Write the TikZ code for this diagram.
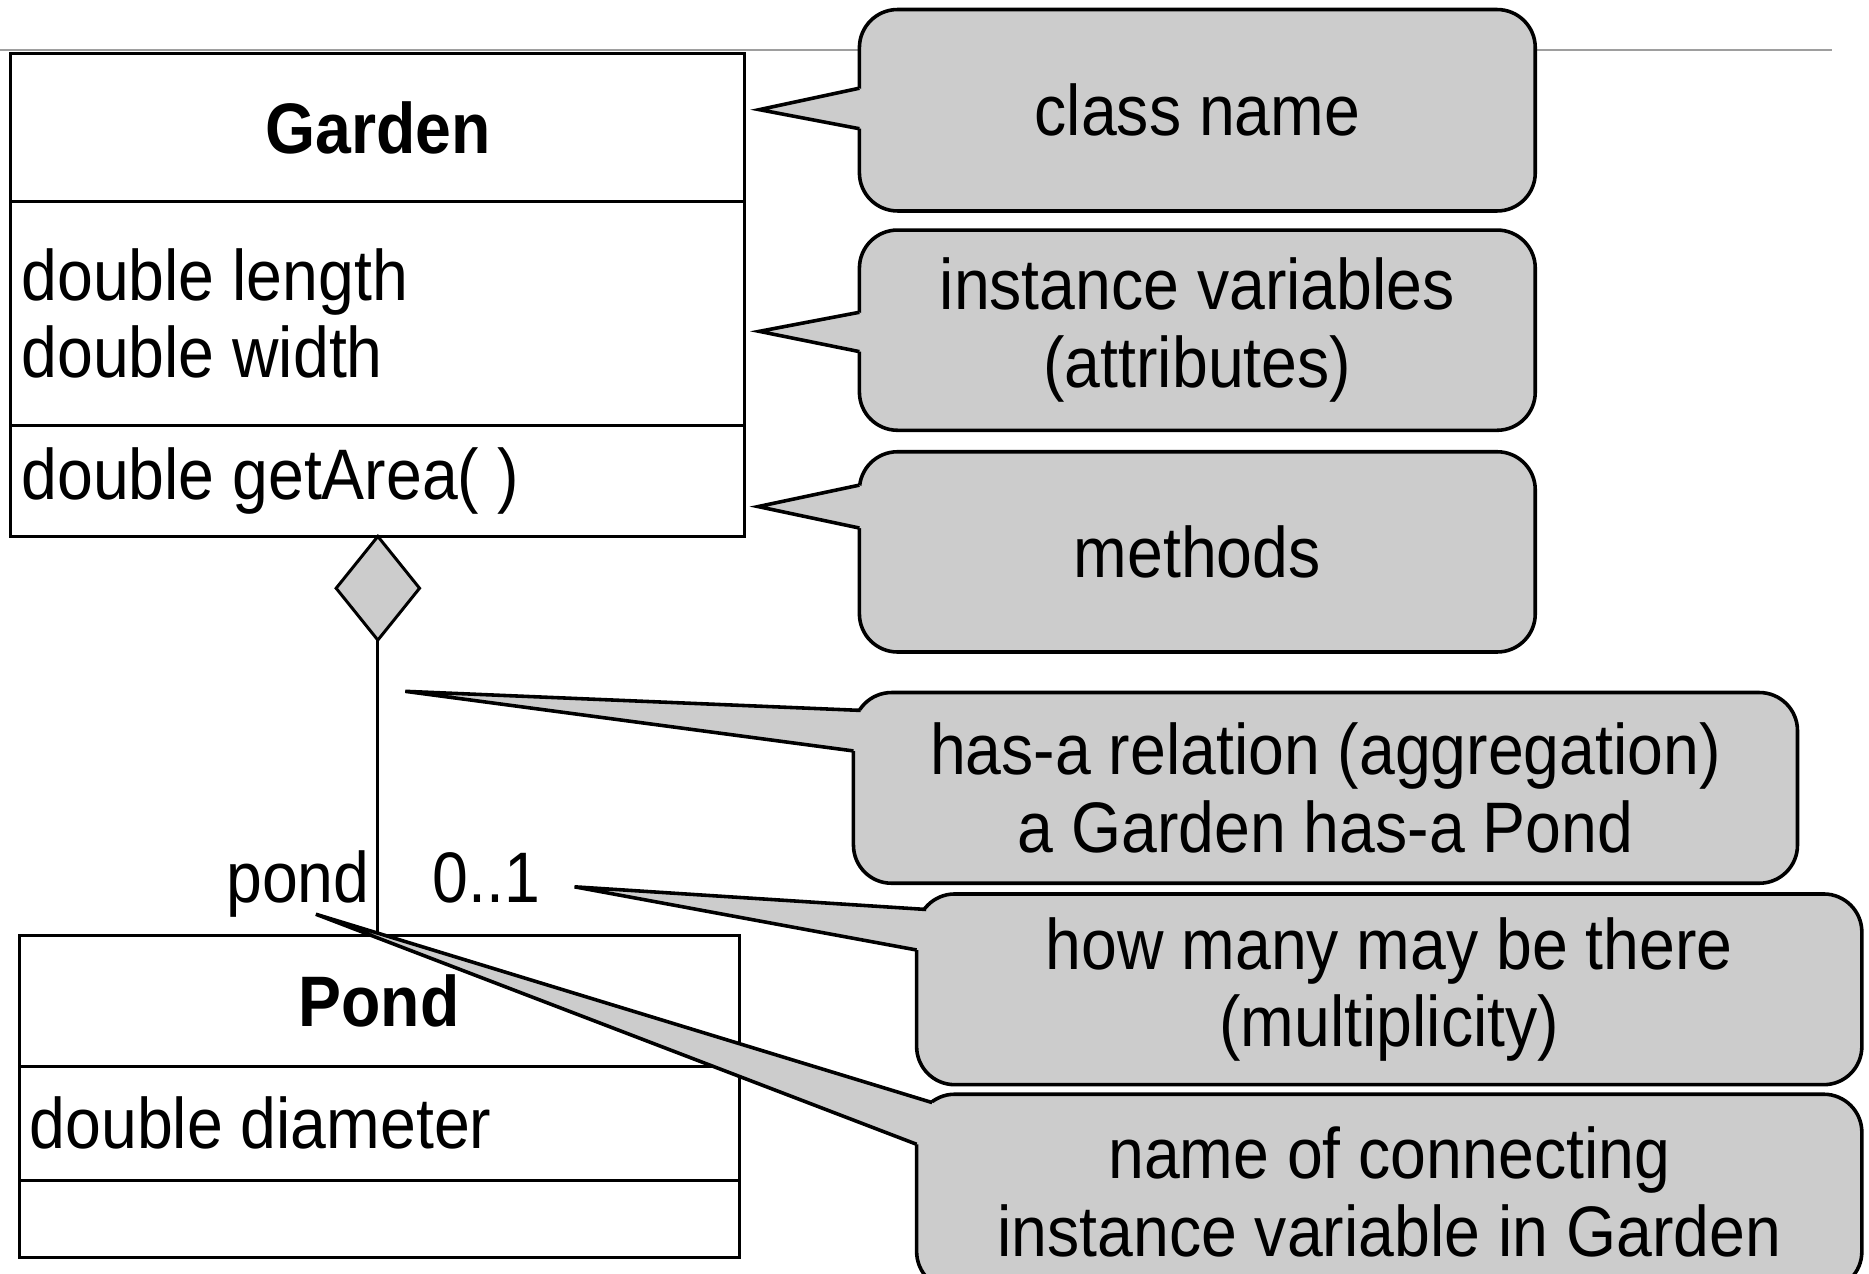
\documentclass[tikz,border=0pt]{standalone}
\usepackage{fontspec}
\setmainfont{Liberation Sans}[FakeStretch=0.9]
\usetikzlibrary{positioning,shapes.geometric}
\definecolor{calloutgray}{gray}{0.8}
\definecolor{rulegray}{gray}{0.62}

\begin{document}
\begin{tikzpicture}
[x=0.5pt, y=-0.5pt,
 every node/.style={inner sep=0pt, outer sep=0pt},
 font=\fontsize{30}{32.5}\selectfont,
 classpart/.style={rectangle, draw=black, line width=1.25pt},
 memberpart/.style={classpart, align=flush left, inner xsep=4.5pt},
 note/.style={rectangle, rounded corners=16pt, draw=black, fill=calloutgray, line width=1.5pt, align=center},
 pointer/.style={draw=black, line width=1.5pt}]
\useasboundingbox (0,0) rectangle (1568,1068);
\clip (0,0) rectangle (1568,1068);

% rule under the slide title
\coordinate (rulel) at (0,42);
\coordinate (ruler) at (1537,42);
\draw [rulegray, line width=1pt] (rulel) -- (ruler);

% class Garden
\node (gname) [classpart, minimum width=308pt, minimum height=62pt] at (317,107) {\bfseries Garden};
\node (gattr) [memberpart, text width=299pt, minimum height=94pt, below=0pt of gname] {double length\\double width};
\node (gmeth) [memberpart, text width=299pt, minimum height=46.5pt, below=0pt of gattr] {double getArea( )};

% aggregation
\node (agg) [diamond, draw=black, fill=calloutgray, line width=1.25pt, minimum width=35pt, minimum height=43.5pt, below=0pt of gmeth] {};

% class Pond
\node (pname) [classpart, minimum width=302pt, minimum height=55pt] at (318,840) {\bfseries Pond};
\node (pattr) [memberpart, text width=293pt, minimum height=47.5pt, below=0pt of pname] {double diameter};
\node (pmeth) [classpart, minimum width=302pt, minimum height=32.5pt, below=0pt of pattr] {};

\draw [line width=1.25pt] (agg.south) -- (agg.south |- pname.north);
\node (rolename) [anchor=base east] at (310,757) {pond};
\node (mult) [anchor=base west] at (363,757) {0..1};

% notes
\node (cname) [note, minimum width=283.5pt, minimum height=84.5pt] at (1004.5,92.5) {class name};
\node (cattr) [note, minimum width=283.5pt, minimum height=84pt] at (1004.5,277) {instance variables\\(attributes)};
\node (cmeth) [note, minimum width=283.5pt, minimum height=84pt] at (1004.5,463) {methods};
\node (cagg) [note, minimum width=396pt, minimum height=80pt] at (1112,661) {has-a relation (aggregation)\\a Garden has-a Pond};
\node (cmult) [note, minimum width=396.5pt, minimum height=80pt] at (1165.5,830) {how many may be there\\(multiplicity)};
\node (crole) [note, minimum width=396.5pt, minimum height=82pt] at (1165.5,1000) {name of connecting\\instance variable in Garden};

\coordinate (tipname) at (637,92);
\coordinate (tipattr) at (637,278);
\coordinate (tipmeth) at (636,425);
\coordinate (tipagg) at (340,580);
\coordinate (tipmult) at (482,744);
\coordinate (tiprole) at (265,767);

% pointers, drawn over the note borders
\foreach \nb/\tp/\dx/\up/\low in {cname/tipname/0/9.25/-7.75, cattr/tipattr/0/7.5/-9, cmeth/tipmeth/0/28/10,
  cagg/tipagg/3/32.5/15.5, cmult/tipmult/4/33.5/16.5, crole/tiprole/6.5/37.5/20}
{
  \fill [calloutgray] ([xshift=\dx pt, yshift=\up pt]\nb.west) -- (\tp) -- ([yshift=\low pt]\nb.west)
    -- ([xshift=8pt, yshift=\low pt]\nb.west) -- ([xshift=\dx pt+8pt, yshift=\up pt-4pt]\nb.west) -- cycle;
  \draw [pointer] ([xshift=\dx pt, yshift=\up pt]\nb.west) -- (\tp) -- ([yshift=\low pt]\nb.west);
}
\end{tikzpicture}
\end{document}
